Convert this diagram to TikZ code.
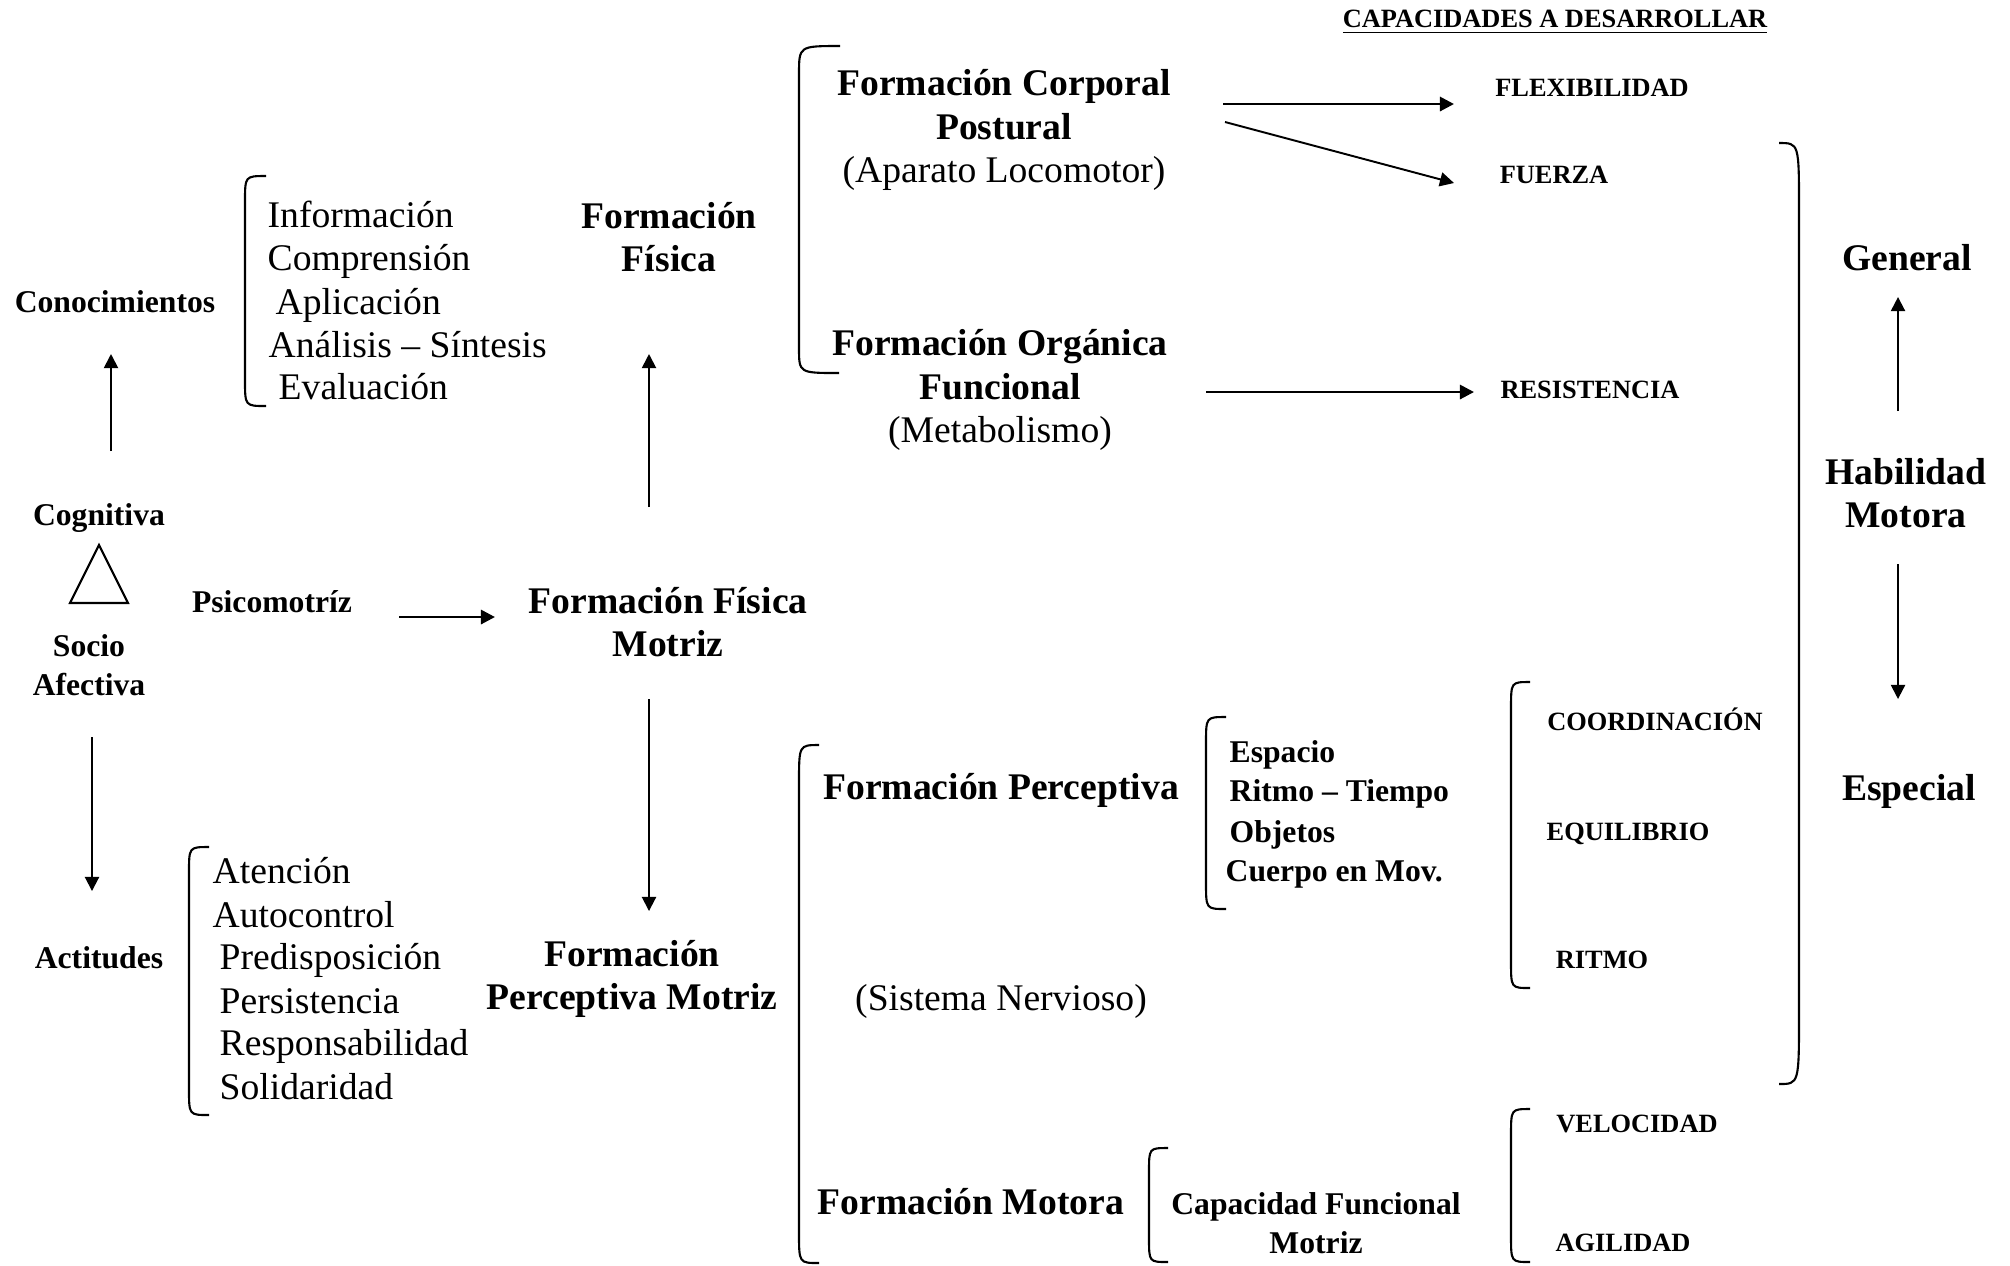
\documentclass[tikz,border=0pt]{standalone}
\usepackage{fontspec}
\setmainfont{Liberation Serif}
\usetikzlibrary{arrows.meta}

\tikzset{
  txt/.style={inner sep=0pt, align=center, font=\fontsize{10.7}{12.4}\selectfont},
  tit/.style={inner sep=0pt, align=center, font=\fontsize{10.7}{12.4}\selectfont\bfseries},
  sub/.style={inner sep=0pt, align=center, font=\fontsize{9}{11}\selectfont\bfseries},
  mayus/.style={inner sep=0pt, font=\fontsize{7.5}{9}\selectfont\bfseries},
  item/.style={anchor=west, text height=7.5pt, text depth=2pt},
  arr/.style={-{Triangle[length=4pt,width=4pt]}, line width=0.55pt},
  arrg/.style={arr, line width=0.8pt},
  llave/.style={line width=0.6pt}
}

\begin{document}
\begin{tikzpicture}[x=0.01cm, y=-0.01cm]
\useasboundingbox (0,0) rectangle (2010,1265);

% Columna izquierda: dominios
\node[sub] (con) at (115,302) {Conocimientos};
\node[sub] (cog) at (99,518) {Cognitiva};
\node[sub] (afe) at (89,665) {Socio\\Afectiva};
\node[sub] (act) at (99,958) {Actitudes};
\node[sub] (psi) at (272,602) {Psicomotríz};
\draw[llave] (99,545) -- (128,603) -- (70,603) -- cycle; % triangulo

\draw[arr] ([shift={(12,-67)}]cog.center) -- ([shift={(-4,52)}]con.center);
\draw[arr] ([shift={(3,72)}]afe.center) -- ([shift={(-7,-67)}]act.center);

% Listas
\draw[llave] (266,176) .. controls (245,176) .. (245,202) -- (245,380) .. controls (245,406) .. (266,406);
\foreach \n/\x/\y/\t in {1/267/218/Información, 2/267/261/Comprensión, 3/275/305/Aplicación,
    4/268/348/Análisis – Síntesis, 5/278/390/Evaluación}
  \node[txt, item] (cono\n) at (\x,\y) {\t};

\draw[llave] (209,847) .. controls (189,847) .. (189,873) -- (189,1089) .. controls (189,1115) .. (209,1115);
\foreach \n/\x/\y/\t in {1/212/874/Atención, 2/212/918/Autocontrol, 3/219/960/Predisposición,
    4/219/1004/Persistencia, 5/219/1046/Responsabilidad, 6/219/1090/Solidaridad}
  \node[txt, item] (acti\n) at (\x,\y) {\t};

% Columna central
\node[tit] (fis) at (669,237) {Formación\\Física};
\node[tit] (ffm) at (668,622) {Formación Física\\Motriz};
\node[tit] (fpm) at (632,979) {Formación\\Perceptiva Motriz};

\draw[arrg] ([shift={(127,15)}]psi.center) -- ([shift={(-173,-5)}]ffm.center);
\draw[arr] ([shift={(-19,-115)}]ffm.center) -- ([shift={(-20,117)}]fis.center);
\draw[arr] ([shift={(-19,77)}]ffm.center) -- ([shift={(17,-68)}]fpm.center);

% Formacion fisica
\draw[llave] (840,46) .. controls (799,46) .. (799,74) -- (799,348) .. controls (799,373) .. (839,373);
\node[txt] (cor) at (1004,130) {\textbf{Formación Corporal}\\\textbf{Postural}\\(Aparato Locomotor)};
\node[txt] (org) at (1000,390) {\textbf{Formación Orgánica}\\\textbf{Funcional}\\(Metabolismo)};

% Capacidades
\node[mayus] (tit) at (1555,22) {\underline{CAPACIDADES A DESARROLLAR}};
\node[mayus] (flex) at (1592,88) {FLEXIBILIDAD};
\node[mayus] (fue) at (1554,175) {FUERZA};
\node[mayus] (res) at (1590,390) {RESISTENCIA};

\draw[arrg] ([shift={(219,-26)}]cor.center) -- ([shift={(-138,16)}]flex.center);
\draw[arr] ([shift={(221,-8)}]cor.center) -- ([shift={(-100,8)}]fue.center);
\draw[arrg] ([shift={(206,2)}]org.center) -- ([shift={(-116,2)}]res.center);

% Formacion perceptiva motriz
\draw[llave] (819,745) .. controls (799,745) .. (799,783) -- (799,1233) .. controls (799,1263) .. (819,1263);
\node[tit] (fper) at (1001,790) {Formación Perceptiva};
\node[txt] (sisn) at (1001,1001) {(Sistema Nervioso)};
\node[tit] (fmot) at (971,1202) {Formación Motora};

\draw[llave] (1226,717) .. controls (1206,717) .. (1206,743) -- (1206,883) .. controls (1206,909) .. (1226,909);
\foreach \n/\x/\y/\t in {1/1229/753/Espacio, 2/1229/792/Ritmo – Tiempo, 3/1229/833/Objetos, 4/1225/872/Cuerpo en Mov.}
  \node[sub, item] (perc\n) at (\x,\y) {\t};

\draw[llave] (1168,1148) .. controls (1149,1148) .. (1149,1172) -- (1149,1238) .. controls (1149,1262) .. (1168,1262);
\node[sub] (cfm) at (1316,1223) {Capacidad Funcional\\Motriz};

\draw[llave] (1530,682) .. controls (1511,682) .. (1511,708) -- (1511,962) .. controls (1511,988) .. (1530,988);
\node[mayus] (coo) at (1655,719) {COORDINACIÓN};
\node[mayus] (equ) at (1628,834) {EQUILIBRIO};
\node[mayus] (rit) at (1602,960) {RITMO};

\draw[llave] (1530,1109) .. controls (1511,1109) .. (1511,1135) -- (1511,1236) .. controls (1511,1262) .. (1530,1262);
\node[mayus] (vel) at (1637,1124) {VELOCIDAD};
\node[mayus] (agi) at (1623,1243) {AGILIDAD};

% Habilidad motora
\draw[llave] (1779,143) .. controls (1799,143) .. (1799,210) -- (1799,1013) .. controls (1799,1084) .. (1779,1084);
\node[tit] (gen) at (1907,258) {General};
\node[tit] (hab) at (1906,493) {Habilidad\\Motora};
\node[tit] (esp) at (1909,791) {Especial};

\draw[arr] ([shift={(-8,-82)}]hab.center) -- ([shift={(-9,39)}]gen.center);
\draw[arr] ([shift={(-8,71)}]hab.center) -- ([shift={(-11,-92)}]esp.center);
\end{tikzpicture}
\end{document}
